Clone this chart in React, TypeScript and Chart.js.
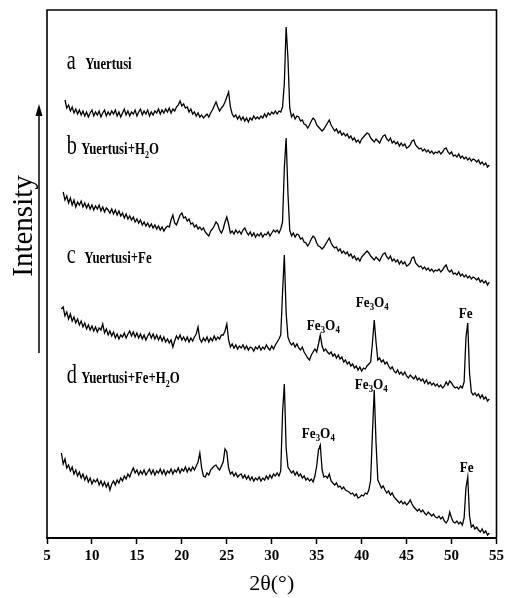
import React, { useEffect, useRef } from "react";
import { Chart, registerables } from "chart.js";

Chart.register(...registerables);

// 2θ sampling grid (degrees)
const X_START = 6.6;
const X_STEP = 0.2;
const X_COUNT = 239;
const X_MIN = 5;
const X_MAX = 55;
const X_TICK_STEP = 5;
const Y_MIN = 0;
const Y_MAX = 528;

// Intensity (a.u., stacked traces), one row per 2°
const seriesA = [
  null, null, 438, 430, 433, 427, 431, 425, 429, 424,
  428, 423, 427, 422, 426, 421, 425, 428, 422, 426,
  423, 427, 421, 425, 428, 422, 426, 423, 427, 424,
  428, 422, 426, 421, 425, 429, 423, 427, 422, 426,
  424, 428, 422, 426, 429, 423, 427, 424, 428, 422,
  426, 423, 427, 425, 429, 424, 428, 425, 429, 426,
  430, 425, 429, 427, 431, 433, 437, 432, 434, 430,
  431, 426, 429, 424, 426, 422, 425, 421, 423, 420,
  422, 424, 421, 425, 428, 432, 436, 431, 427, 430,
  432, 436, 441, 446, 431, 424, 421, 423, 419, 422,
  418, 421, 417, 420, 416, 420, 418, 422, 419, 421,
  419, 422, 420, 424, 421, 425, 423, 426, 424, 427,
  424, 427, 426, 431, 455, 511, 480, 430, 421, 424,
  419, 422, 421, 417, 418, 414, 413, 410, 413, 417,
  420, 418, 413, 411, 409, 407, 409, 412, 415, 418,
  413, 410, 407, 409, 405, 407, 403, 405, 402, 404,
  400, 402, 398, 400, 396, 398, 395, 399, 401, 403,
  405, 404, 400, 398, 396, 399, 397, 395, 399, 402,
  403, 399, 397, 400, 395, 397, 394, 396, 392, 395,
  392, 394, 390, 391, 393, 397, 398, 393, 391, 389,
  390, 387, 389, 386, 388, 385, 387, 384, 386, 385,
  387, 384, 386, 389, 390, 386, 384, 386, 382, 383,
  381, 384, 380, 382, 379, 381, 378, 380, 377, 379,
  378, 376, 378, 374, 376, 373, 375, 371, 373,
];

const seriesB = [
  null, 346, 338, 342, 335, 340, 333, 338, 331, 336,
  333, 337, 331, 335, 330, 334, 329, 333, 328, 332,
  329, 333, 327, 331, 326, 330, 328, 325, 329, 324,
  328, 323, 327, 322, 325, 320, 324, 319, 322, 318,
  321, 316, 319, 315, 318, 313, 316, 312, 315, 311,
  314, 310, 313, 309, 312, 308, 311, 307, 310, 312,
  311, 318, 323, 315, 313, 318, 323, 325, 320, 321,
  317, 319, 314, 315, 311, 313, 309, 311, 308, 310,
  306, 304, 302, 307, 309, 312, 316, 314, 308, 305,
  309, 316, 321, 314, 305, 307, 304, 308, 305, 307,
  304, 308, 310, 306, 303, 306, 302, 305, 301, 304,
  302, 305, 301, 304, 303, 306, 302, 305, 308, 306,
  308, 305, 309, 316, 370, 400, 345, 308, 302, 305,
  301, 304, 303, 299, 300, 296, 295, 292, 295, 299,
  302, 300, 295, 292, 291, 289, 291, 294, 297, 300,
  295, 292, 290, 291, 287, 289, 285, 287, 284, 286,
  282, 284, 280, 282, 278, 280, 277, 281, 283, 285,
  287, 285, 282, 280, 278, 281, 279, 277, 281, 284,
  285, 281, 279, 282, 277, 279, 276, 278, 274, 277,
  274, 276, 272, 273, 275, 280, 281, 275, 273, 271,
  272, 269, 271, 268, 270, 267, 269, 266, 268, 267,
  269, 266, 268, 271, 273, 268, 266, 268, 264, 265,
  263, 266, 262, 264, 261, 263, 260, 262, 259, 261,
  260, 258, 260, 256, 258, 255, 257, 253, 256,
];

const seriesC = [
  229, 231, 222, 226, 219, 224, 217, 221, 215, 219,
  213, 217, 211, 215, 209, 213, 208, 212, 207, 211,
  206, 210, 208, 214, 205, 209, 203, 207, 202, 206,
  200, 204, 199, 203, 201, 205, 200, 204, 207, 202,
  206, 201, 205, 200, 204, 199, 203, 198, 202, 205,
  200, 204, 199, 203, 198, 202, 197, 201, 196, 199,
  195, 198, 191, 197, 202, 199, 203, 198, 201, 197,
  201, 196, 200, 197, 201, 204, 211, 199, 196, 200,
  197, 201, 196, 200, 197, 202, 198, 201, 199, 203,
  203, 207, 214, 198, 191, 194, 190, 193, 189, 192,
  190, 193, 189, 192, 188, 191, 190, 187, 191, 189,
  192, 188, 191, 189, 193, 190, 188, 192, 189, 193,
  196, 199, 203, 245, 283, 225, 201, 196, 193, 195,
  191, 194, 190, 188, 191, 186, 183, 180, 178, 183,
  186, 189, 186, 194, 203, 192, 187, 189, 186, 184,
  186, 182, 184, 180, 183, 179, 181, 176, 178, 174,
  176, 172, 174, 170, 172, 168, 171, 167, 170, 169,
  172, 174, 176, 195, 218, 196, 178, 180, 176, 178,
  174, 176, 172, 169, 171, 167, 165, 168, 164, 166,
  163, 166, 162, 160, 163, 161, 159, 162, 158, 160,
  157, 159, 155, 158, 154, 156, 153, 155, 152, 154,
  151, 153, 150, 152, 156, 153, 157, 155, 152, 150,
  151, 149, 152, 150, 156, 200, 215, 165, 146, 143,
  145, 142, 144, 140, 143, 139, 141, 137, 139,
];

const seriesD = [
  85, 74, 79, 70, 73, 67, 71, 64, 68, 62,
  66, 60, 64, 58, 62, 56, 60, 54, 58, 56,
  59, 53, 57, 52, 56, 51, 55, 48, 54, 57,
  53, 58, 55, 60, 57, 62, 59, 64, 61, 66,
  70, 65, 68, 63, 67, 64, 68, 63, 66, 69,
  64, 68, 63, 67, 65, 69, 64, 68, 63, 67,
  65, 69, 64, 68, 66, 70, 65, 69, 67, 71,
  66, 70, 67, 71, 68, 72, 76, 85, 70, 62,
  61, 65, 63, 68, 70, 72, 73, 70, 68, 72,
  76, 89, 86, 70, 64, 66, 62, 65, 61, 63,
  64, 60, 63, 59, 62, 58, 61, 57, 60, 58,
  61, 57, 60, 58, 62, 59, 63, 60, 64, 62,
  65, 62, 67, 125, 154, 90, 71, 68, 65, 67,
  63, 66, 62, 64, 60, 62, 58, 60, 57, 59,
  56, 62, 72, 88, 93, 68, 61, 62, 60, 64,
  57, 55, 53, 55, 51, 52, 49, 51, 48, 47,
  46, 44, 45, 42, 44, 40, 41, 43, 42, 45,
  44, 48, 58, 105, 148, 95, 58, 54, 50, 52,
  48, 45, 47, 43, 45, 41, 39, 37, 35, 37,
  34, 36, 33, 35, 38, 34, 31, 29, 27, 29,
  26, 28, 25, 23, 26, 24, 22, 24, 21, 20,
  22, 19, 21, 17, 15, 18, 26, 20, 16, 15,
  17, 14, 16, 13, 20, 50, 61, 22, 11, 13,
  9, 11, 8, 6, 9, 5, 7, 3, 5,
];

const SERIES = [seriesA, seriesB, seriesC, seriesD];
const SERIES_NAMES = ["Yuertusi", "Yuertusi+H2O", "Yuertusi+Fe", "Yuertusi+Fe+H2O"];
const SERIES_LETTERS = ["a", "b", "c", "d"];

type Part = [string, boolean];
// label text split in (text, isSubscript) runs
const SERIES_LABEL_PARTS: Part[][] = [
  [["Yuertusi", false]],
  [["Yuertusi+H", false], ["2", true], ["O", false]],
  [["Yuertusi+Fe", false]],
  [["Yuertusi+Fe+H", false], ["2", true], ["O", false]],
];
// label anchor (2θ of letter, 2θ of text, intensity of baseline)
const SERIES_LABEL_LETTER_X = [7.2, 7.2, 7.2, 7.2];
const SERIES_LABEL_TEXT_X = [9.25, 8.8, 9.15, 8.8];
const SERIES_LABEL_Y = [469, 384, 275, 155];

const FE3O4: Part[] = [["Fe", false], ["3", true], ["O", false], ["4", true]];
const FE: Part[] = [["Fe", false]];
// peak annotations: series index, 2θ of the peak, text, pixel nudges
const PEAK_SERIES = [2, 2, 2, 3, 3, 3];
const PEAK_X = [35.4, 41.4, 51.8, 35.4, 41.4, 51.8];
const PEAK_TEXT = [FE3O4, FE3O4, FE, FE3O4, FE3O4, FE];
const PEAK_DX = [3, -2, -2, -2, -3, -1];
const PEAK_DY = [5, 13, 5, 7, 1, 5];

const X_TITLE = "2θ(°)";
const Y_TITLE = "Intensity";

const SERIF = '"Liberation Serif", "Times New Roman", serif';

function drawRich(
  ctx: CanvasRenderingContext2D,
  parts: Part[],
  x: number,
  y: number,
  size: number,
  weight: string,
  sx: number,
  align: "left" | "center"
) {
  const subSize = Math.round(size * 0.65);
  const fMain = `${weight} ${size}px ${SERIF}`;
  const fSub = `${weight} ${subSize}px ${SERIF}`;
  let w = 0;
  for (const [t, sub] of parts) {
    ctx.font = sub ? fSub : fMain;
    w += ctx.measureText(t).width;
  }
  ctx.save();
  ctx.translate(x, y);
  ctx.scale(sx, 1);
  ctx.textAlign = "left";
  ctx.textBaseline = "alphabetic";
  ctx.fillStyle = "#000";
  let cx = align === "center" ? -w / 2 : 0;
  for (const [t, sub] of parts) {
    ctx.font = sub ? fSub : fMain;
    ctx.fillText(t, cx, sub ? size * 0.22 : 0);
    cx += ctx.measureText(t).width;
  }
  ctx.restore();
}

const decorPlugin = {
  id: "decor",
  afterDraw(chart: any) {
    const { ctx, chartArea } = chart;
    const xs = chart.scales.x;
    const ys = chart.scales.y;
    ctx.save();
    // frame
    ctx.strokeStyle = "#000";
    ctx.lineWidth = 1.6;
    ctx.beginPath();
    ctx.moveTo(chartArea.left, chartArea.bottom);
    ctx.lineTo(chartArea.left, chartArea.top);
    ctx.lineTo(chartArea.right, chartArea.top);
    ctx.lineTo(chartArea.right, chartArea.bottom);
    ctx.stroke();

    // series labels
    for (let i = 0; i < SERIES.length; i++) {
      const py = ys.getPixelForValue(SERIES_LABEL_Y[i]);
      ctx.save();
      ctx.translate(xs.getPixelForValue(SERIES_LABEL_LETTER_X[i]), py);
      ctx.scale(0.75, 1);
      ctx.font = `27px ${SERIF}`;
      ctx.fillStyle = "#000";
      ctx.textAlign = "left";
      ctx.textBaseline = "alphabetic";
      ctx.fillText(SERIES_LETTERS[i], 0, 0);
      ctx.restore();
      drawRich(ctx, SERIES_LABEL_PARTS[i], xs.getPixelForValue(SERIES_LABEL_TEXT_X[i]), py, 16, "bold", 0.8, "left");
    }

    // peak annotations
    for (let k = 0; k < PEAK_X.length; k++) {
      const arr = SERIES[PEAK_SERIES[k]];
      const idx = Math.round((PEAK_X[k] - X_START) / X_STEP);
      const v = arr[idx] as number;
      const px = xs.getPixelForValue(PEAK_X[k]) + PEAK_DX[k];
      const py = ys.getPixelForValue(v) - PEAK_DY[k];
      drawRich(ctx, PEAK_TEXT[k], px, py, 15, "bold", 0.88, "center");
    }

    // y title with arrow
    const midY = 226;
    ctx.save();
    ctx.translate(32, midY);
    ctx.rotate(-Math.PI / 2);
    ctx.font = `29px ${SERIF}`;
    ctx.fillStyle = "#000";
    ctx.textAlign = "center";
    ctx.textBaseline = "alphabetic";
    ctx.fillText(Y_TITLE, 0, 0);
    ctx.restore();

    const ax = 39;
    ctx.lineWidth = 1.5;
    ctx.beginPath();
    ctx.moveTo(ax, 353);
    ctx.lineTo(ax, 112);
    ctx.stroke();
    ctx.fillStyle = "#000";
    ctx.beginPath();
    ctx.moveTo(ax, 104);
    ctx.lineTo(ax - 3.5, 116);
    ctx.lineTo(ax + 3.5, 116);
    ctx.closePath();
    ctx.fill();
    ctx.restore();
  },
};

export default function App() {
  const ref = useRef<HTMLCanvasElement>(null);
  useEffect(() => {
    if (!ref.current) return;
    const xsGrid = Array.from({ length: X_COUNT }, (_, i) => +(X_START + i * X_STEP).toFixed(1));
    const chart = new Chart(ref.current, {
      type: "line",
      data: {
        datasets: SERIES.map((arr, si) => ({
          label: SERIES_NAMES[si],
          data: xsGrid.map((x, i) => ({ x, y: arr[i] === undefined ? null : arr[i] })),
          borderColor: "#000",
          borderWidth: 1.3,
          pointRadius: 0,
          tension: 0,
          fill: false,
        })),
      },
      options: {
        animation: false,
        responsive: false,
        devicePixelRatio: 1,
        layout: { padding: { left: 47, right: 8, top: 10, bottom: 0 } },
        plugins: { legend: { display: false }, tooltip: { enabled: false } },
        scales: {
          x: {
            type: "linear",
            min: X_MIN,
            max: X_MAX,
            afterFit: (scale: any) => {
              scale.height = 60;
            },
            ticks: {
              stepSize: X_TICK_STEP,
              autoSkip: false,
              maxRotation: 0,
              color: "#000",
              padding: 3,
              font: { family: SERIF, size: 15, weight: "bold" },
            },
            grid: {
              drawOnChartArea: false,
              drawTicks: true,
              tickLength: 6,
              tickColor: "#000",
              tickWidth: 1.5,
            },
            border: { display: true, color: "#000", width: 2 },
            title: {
              display: true,
              text: X_TITLE,
              color: "#000",
              padding: { top: 0, bottom: 1 },
              font: { family: SERIF, size: 22, weight: "normal" },
            },
          },
          y: {
            display: false,
            min: Y_MIN,
            max: Y_MAX,
          },
        },
      } as any,
      plugins: [decorPlugin],
    });
    return () => chart.destroy();
  }, []);
  return (
    <div style={{ position: "fixed", left: 0, top: 0, width: 507, height: 598, background: "#fff" }}>
      <canvas ref={ref} width={507} height={598} style={{ width: 507, height: 598, display: "block" }} />
    </div>
  );
}
